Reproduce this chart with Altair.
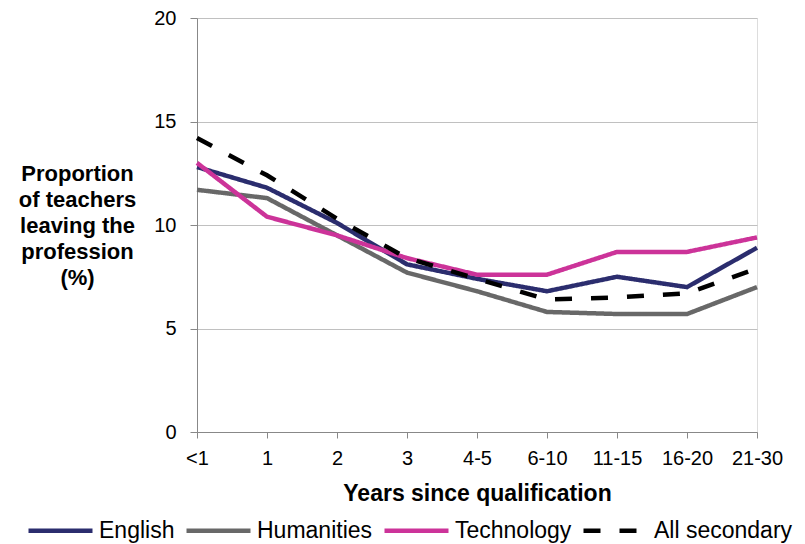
import altair as alt
import pandas as pd

categories = ["<1", "1", "2", "3", "4-5", "6-10", "11-15", "16-20", "21-30"]
english = [12.8, 11.8, 10.1, 8.1, 7.4, 6.8, 7.5, 7.0, 8.9]
humanities = [11.7, 11.3, 9.5, 7.7, 6.8, 5.8, 5.7, 5.7, 7.0]
technology = [13.0, 10.4, 9.5, 8.4, 7.6, 7.6, 8.7, 8.7, 9.4]
all_secondary = [14.2, 12.4, 10.3, 8.4, 7.4, 6.4, 6.5, 6.7, 7.9]

series_names = ["English", "Humanities", "Technology", "All secondary"]
series_values = [english, humanities, technology, all_secondary]
series_colors = ["#2B2D6E", "#686868", "#CC3399", "#000000"]
series_dashes = [[1, 0], [1, 0], [1, 0], [17, 19]]

rows = []
for i, (name, vals) in enumerate(zip(series_names, series_values)):
    for j, (c, v) in enumerate(zip(categories, vals)):
        rows.append({"series": name, "year": c, "value": v, "order": i})
df = pd.DataFrame(rows)

FONT = "Liberation Sans"

chart = (
    alt.Chart(df)
    .mark_line(strokeWidth=4.5, strokeCap="butt")
    .encode(
        x=alt.X(
            "year:N",
            sort=categories,
            scale=alt.Scale(type="point", padding=0),
            axis=alt.Axis(
                title="Years since qualification",
                labelAngle=0,
                labelFontSize=20,
                labelFont=FONT,
                labelColor="#000000",
                labelPadding=10,
                tickSize=6,
                tickColor="#888888",
                domainColor="#888888",
                titleFontSize=23,
                titleFont=FONT,
                titleFontWeight="bold",
                titleColor="#000000",
                titlePadding=14,
                grid=False,
            ),
        ),
        y=alt.Y(
            "value:Q",
            scale=alt.Scale(domain=[0, 20], nice=False, zero=True),
            axis=alt.Axis(
                values=[0, 5, 10, 15, 20],
                title=["Proportion", "of teachers", "leaving the", "profession", "(%)"],
                titleAngle=0,
                titleAlign="center",
                titleBaseline="middle",
                titleX=-120,
                titleY=155,
                titleFontSize=22,
                titleFont=FONT,
                titleFontWeight="bold",
                titleColor="#000000",
                titleLineHeight=26,
                labelFontSize=20,
                labelFont=FONT,
                labelColor="#000000",
                labelPadding=14,
                tickSize=7,
                tickColor="#888888",
                domainColor="#888888",
                gridColor="#C0C0C0",
                gridWidth=1,
            ),
        ),
        color=alt.Color(
            "series:N",
            sort=series_names,
            scale=alt.Scale(domain=series_names, range=series_colors),
            legend=alt.Legend(
                title=None,
                orient="none",
                direction="horizontal",
                legendX=-171,
                legendY=478,
                symbolType="stroke",
                symbolSize=4096,
                symbolStrokeWidth=4.5,
                labelFontSize=23,
                labelFont=FONT,
                labelColor="#000000",
                labelOffset=4,
                columnPadding=2,
                padding=0,
            ),
        ),
        strokeDash=alt.StrokeDash(
            "series:N",
            sort=series_names,
            scale=alt.Scale(domain=series_names, range=series_dashes),
            legend=None,
        ),
        order=alt.Order("order:Q"),
        detail="series:N",
    )
    .properties(
        width=560,
        height=414,
        autosize=alt.AutoSizeParams(type="none"),
        padding={"left": 189, "top": 10, "right": 40, "bottom": 112},
    )
    .configure_view(stroke=None)
    .configure(background="white")
)

chart.save("out.html", embed_options={"renderer": "svg", "actions": False})
